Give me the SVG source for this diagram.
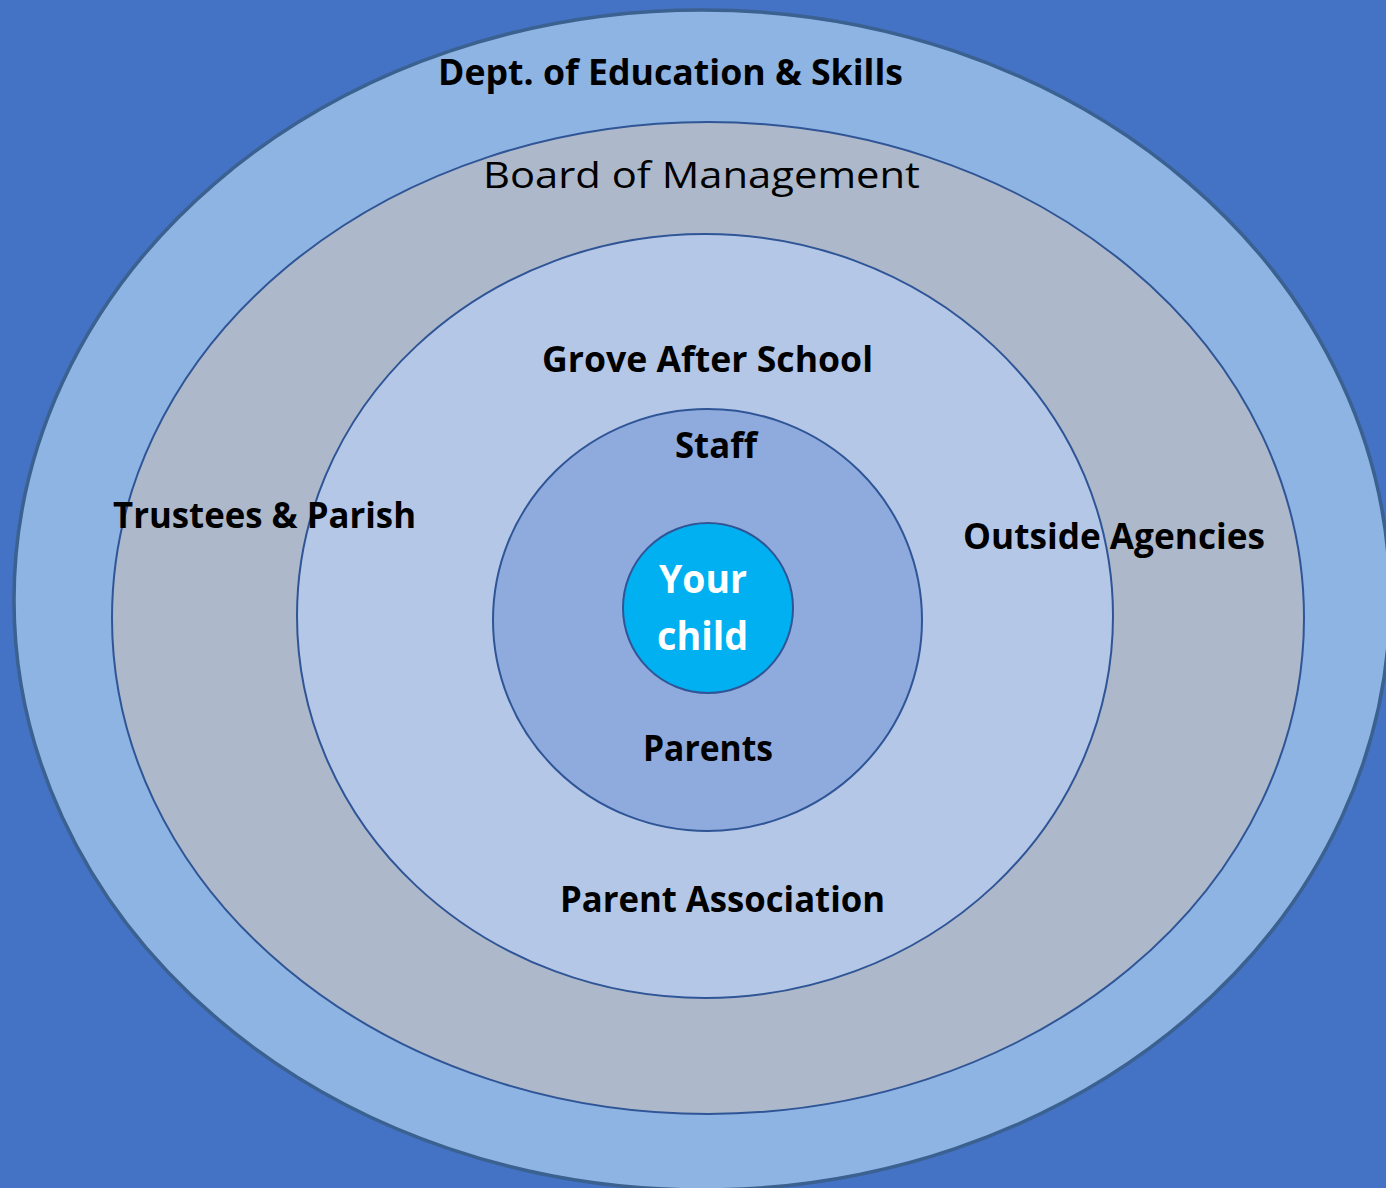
<svg xmlns="http://www.w3.org/2000/svg" width="1386" height="1188" viewBox="0 0 1386 1188">
<style>
.ring{stroke:#2F5597;stroke-width:2}
.lbl{font-family:"Open Sans","Liberation Sans",sans-serif;font-weight:bold;font-size:35px;fill:#000}
.reg{font-family:"Open Sans","Liberation Sans",sans-serif;font-size:37px;fill:#000}
.kid{font-family:"Open Sans","Liberation Sans",sans-serif;font-weight:bold;font-size:39px;fill:#fff}
</style>
<rect width="1386" height="1188" fill="#4472C4"/>
<g id="dept">
<ellipse cx="702" cy="600" rx="688" ry="590" fill="#8EB4E3" stroke="#3B6190" stroke-width="3.5"/>
<text class="lbl" x="438" y="85" textLength="465" lengthAdjust="spacingAndGlyphs">Dept. of Education &amp; Skills</text>
</g>
<g id="board">
<ellipse class="ring" cx="708" cy="618" rx="596" ry="496" fill="#ADB9CA"/>
<text class="reg" x="483" y="188" textLength="437" lengthAdjust="spacingAndGlyphs">Board of Management</text>
</g>
<g id="grove">
<ellipse class="ring" cx="705" cy="616" rx="408" ry="382" fill="#B4C7E7"/>
<text class="lbl" x="542" y="372" textLength="331" lengthAdjust="spacingAndGlyphs">Grove After School</text>
<text class="lbl" x="560" y="912" textLength="325" lengthAdjust="spacingAndGlyphs">Parent Association</text>
</g>
<g id="staff">
<ellipse class="ring" cx="707.5" cy="620" rx="214.5" ry="211" fill="#8FAADC"/>
<text class="lbl" x="675" y="458" textLength="82" lengthAdjust="spacingAndGlyphs">Staff</text>
<text class="lbl" x="643" y="761" textLength="130" lengthAdjust="spacingAndGlyphs">Parents</text>
</g>
<g id="child">
<circle class="ring" cx="708" cy="608" r="85" fill="#00B0F0"/>
<text class="kid" x="659" y="593" textLength="88" lengthAdjust="spacingAndGlyphs">Your</text>
<text class="kid" x="657" y="650" textLength="91" lengthAdjust="spacingAndGlyphs">child</text>
</g>
<g id="side-labels">
<text class="lbl" x="113" y="528" textLength="303" lengthAdjust="spacingAndGlyphs">Trustees &amp; Parish</text>
<text class="lbl" x="963" y="549" textLength="302" lengthAdjust="spacingAndGlyphs">Outside Agencies</text>
</g>
<g id="connectors"/>
</svg>
